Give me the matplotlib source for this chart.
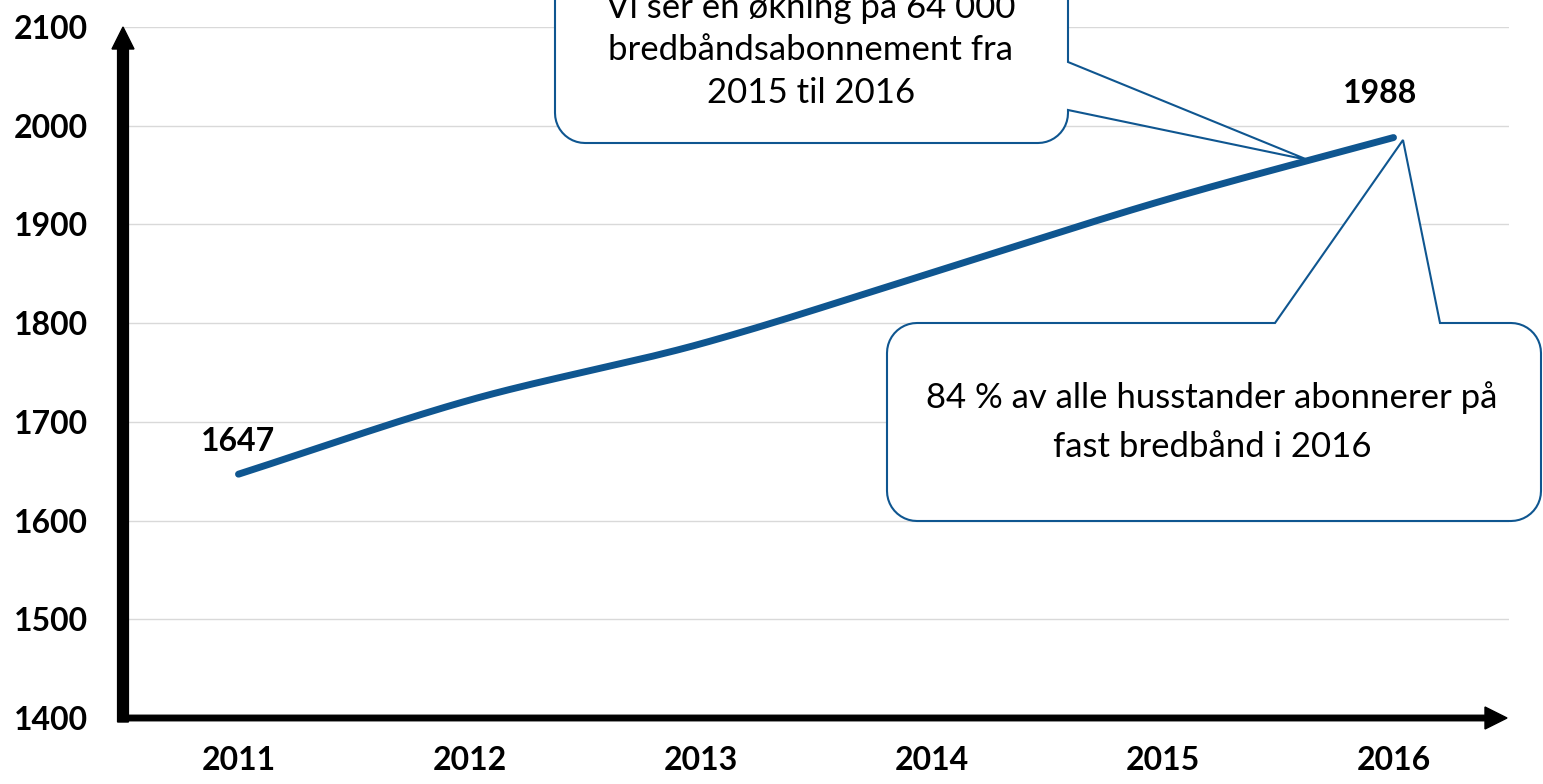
import numpy as np
import matplotlib
matplotlib.use("Agg")
import matplotlib.pyplot as plt
from matplotlib.path import Path
from matplotlib.patches import PathPatch, FancyArrow

years = [2011, 2012, 2013, 2014, 2015, 2016]
values = [1647, 1722, 1779, 1851, 1924, 1988]
y_ticks = [1400, 1500, 1600, 1700, 1800, 1900, 2000, 2100]
callout1_text = "Vi ser en økning på 64 000\nbredbåndsabonnement fra\n2015 til 2016"
callout2_text = "84 % av alle husstander abonnerer på\nfast bredbånd i 2016"

LINE_COLOR = "#0F5690"
W, H = 1543, 784
plt.rcParams['font.family'] = ['Lato', 'DejaVu Sans']

fig = plt.figure(figsize=(W / 100, H / 100), dpi=100)
ax_left, ax_right, ax_top, ax_bot = 123, 1509, 27, 718
ax = fig.add_axes([ax_left / W, 1 - ax_bot / H, (ax_right - ax_left) / W, (ax_bot - ax_top) / H])
ax.set_xlim(2010.5, 2016.5)
ax.set_ylim(1400, 2100)
for s in ax.spines.values():
    s.set_visible(False)
ax.set_yticks(y_ticks)
ax.set_xticks(years)
ax.tick_params(length=0)
ax.set_xticklabels([str(y) for y in years], fontsize=23, fontweight='bold')
ax.set_yticklabels([str(v) for v in y_ticks], fontsize=23, fontweight='bold')
ax.tick_params(axis='x', pad=20)
ax.tick_params(axis='y', pad=25)
ax.grid(axis='y', color='#D9D9D9', linewidth=1)
ax.set_axisbelow(True)

# Catmull-Rom smoothing of the series for rendering
def catmull_rom(x, y, n=30):
    x = np.asarray(x, float); y = np.asarray(y, float)
    px = np.concatenate([[2 * x[0] - x[1]], x, [2 * x[-1] - x[-2]]])
    py = np.concatenate([[2 * y[0] - y[1]], y, [2 * y[-1] - y[-2]]])
    xs, ys = [], []
    t = np.linspace(0, 1, n)
    for i in range(1, len(px) - 2):
        p0, p1, p2, p3 = [np.array([px[j], py[j]]) for j in (i - 1, i, i + 1, i + 2)]
        for tt in t:
            pt = 0.5 * ((2 * p1) + (-p0 + p2) * tt + (2 * p0 - 5 * p1 + 4 * p2 - p3) * tt ** 2
                        + (-p0 + 3 * p1 - 3 * p2 + p3) * tt ** 3)
            xs.append(pt[0]); ys.append(pt[1])
    return xs, ys

sx, sy = catmull_rom(years, values)
ax.plot(sx, sy, color=LINE_COLOR, linewidth=5, solid_capstyle='round', zorder=3)

ax.annotate(str(values[0]), (years[0], values[0]), xytext=(0, 33), textcoords='offset pixels',
            ha='center', va='center', fontsize=23, fontweight='bold')
ax.annotate(str(values[-1]), (years[-1], values[-1]), xytext=(-13, 44), textcoords='offset pixels',
            ha='center', va='center', fontsize=23, fontweight='bold')

# axis arrows (figure pixel coords)
def fx(x): return x / W
def fy(y): return 1 - y / H

fig.patches.append(FancyArrow(fx(123), fy(722), 0, fy(27) - fy(722), width=5.5 / H, head_width=22 / W,
                              head_length=22 / H, length_includes_head=True, color='black',
                              transform=fig.transFigure, figure=fig))
fig.patches.append(FancyArrow(fx(120), fy(718), fx(1507) - fx(120), 0, width=5.5 / H, head_width=22 / H,
                              head_length=22 / W, length_includes_head=True, color='black',
                              transform=fig.transFigure, figure=fig))

def arc(cx, cy, r, a0, a1, n=12):
    a = np.linspace(np.radians(a0), np.radians(a1), n)
    return [(cx + r * np.cos(t), cy + r * np.sin(t)) for t in a]

def callout(x0, y0, x1, y1, r, side, b1, b2, tip):
    pts = []
    pts += arc(x0 + r, y0 + r, r, 180, 270)
    if side == 'top':
        pts += [(b1, y0), tip, (b2, y0)]
    pts += arc(x1 - r, y0 + r, r, 270, 360)
    if side == 'right':
        pts += [(x1, b1), tip, (x1, b2)]
    pts += arc(x1 - r, y1 - r, r, 0, 90)
    pts += arc(x0 + r, y1 - r, r, 90, 180)
    pts.append(pts[0])
    verts = [(fx(px), fy(py)) for px, py in pts]
    codes = [Path.MOVETO] + [Path.LINETO] * (len(verts) - 2) + [Path.CLOSEPOLY]
    p = PathPatch(Path(verts, codes), facecolor='white', edgecolor=LINE_COLOR, linewidth=1.5,
                  transform=fig.transFigure, zorder=5)
    fig.patches.append(p)

callout(555, -60, 1068, 143, 30, 'right', 62, 110, (1308, 160))
callout(887, 323, 1541, 521, 30, 'top', 1275, 1440, (1403, 140))

fig.text(fx(811), fy(50), callout1_text, ha='center', va='center', fontsize=25,
         linespacing=1.4, zorder=6)
fig.text(fx(1212), fy(422), callout2_text, ha='center', va='center', fontsize=25,
         linespacing=1.65, zorder=6)

fig.savefig("out.png", dpi=100)
